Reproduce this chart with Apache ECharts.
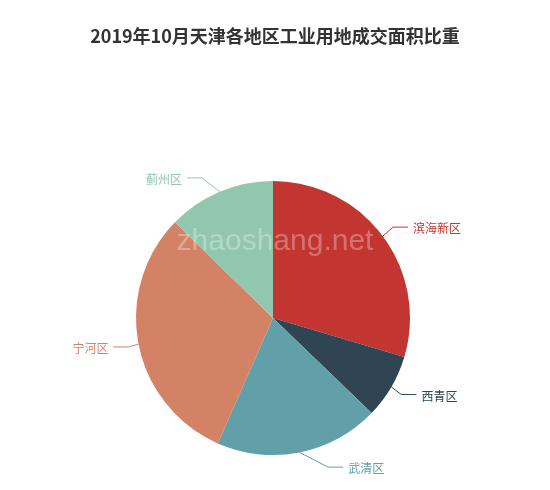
<!DOCTYPE html>
<html>
<head>
<meta charset="utf-8">
<script src="https://cdn.jsdelivr.net/npm/echarts@6/dist/echarts.min.js"></script>
<style>html,body{margin:0;padding:0;background:#fff;}#c{width:550px;height:490px;}</style>
</head>
<body>
<div id="c"></div>
<script>
var titleText = '2019年10月天津各地区工业用地成交面积比重';
var categories = ['滨海新区', '西青区', '武清区', '宁河区', '蓟州区'];
var values = [29.6, 7.6, 19.4, 30.7, 12.7];
var colors = ['#c23531', '#2f4554', '#61a0a8', '#d48265', '#91c7ae'];

var CX = 273, CY = 318, R = 137, LEN = 15, LEN2 = 15;

var chart = echarts.init(document.getElementById('c'));
chart.setOption({
  animation: false,
  color: colors,
  title: {
    text: titleText,
    left: 'center',
    top: 22,
    textStyle: { fontSize: 18, fontWeight: 'bold', color: '#333', fontFamily: 'Noto Sans CJK SC' }
  },
  graphic: [{
    type: 'text',
    left: 'center',
    top: 227,
    z: 100,
    style: { text: 'zhaoshang.net', fill: 'rgba(255,255,255,0.3)', font: '30px "Liberation Sans", Arial, sans-serif' }
  }],
  series: [{
    type: 'pie',
    center: [CX, CY],
    radius: [0, R],
    startAngle: 90,
    label: { fontSize: 12, fontFamily: 'Noto Sans CJK SC' },
    labelLine: { length: LEN, length2: LEN2, smooth: false },
    labelLayout: function (p) {
      var pts = p.labelLinePoints;
      if (!pts) return {};
      var y = pts[1][1];
      var dir = pts[2][0] >= pts[1][0] ? 1 : -1;
      var dy = Math.abs(y - CY);
      var full = R + LEN + LEN2;
      var dx = dy < R + LEN ? Math.sqrt(full * full - dy * dy) : Math.abs(pts[2][0] - CX);
      var x = CX + dx * dir;
      var endX = x - dir * 5;
      return {
        x: x,
        y: y + 1.5,
        align: dir > 0 ? 'left' : 'right',
        verticalAlign: 'middle',
        labelLinePoints: [pts[0], [endX - dir * LEN2, y], [endX, y]]
      };
    },
    data: categories.map(function (c, i) {
      return { name: c, value: values[i], label: { color: colors[i] }, labelLine: { lineStyle: { color: colors[i] } } };
    })
  }]
});
</script>
</body>
</html>
